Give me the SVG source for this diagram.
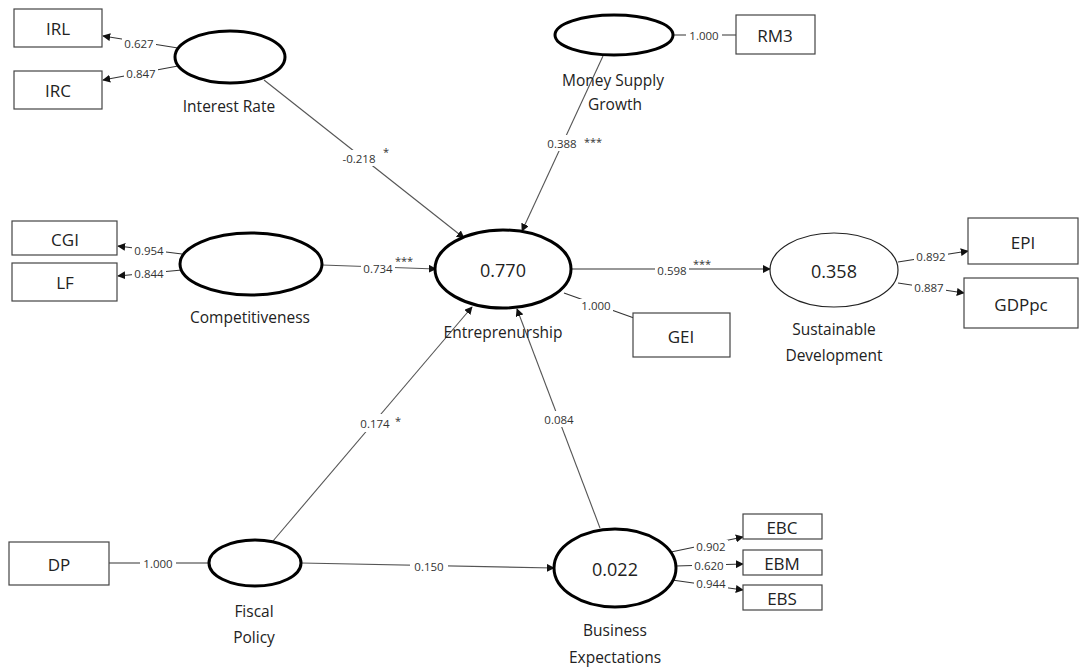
<svg xmlns="http://www.w3.org/2000/svg" width="1080" height="671" viewBox="0 0 1080 671">
<defs>
<marker id="ah" viewBox="0 0 10 10" refX="9" refY="5" markerWidth="8" markerHeight="8" markerUnits="userSpaceOnUse" orient="auto">
<path d="M0,0 L10,5 L0,10 z" fill="#111"/>
</marker>
<style>
.box{fill:#fff;stroke:#444;stroke-width:1.2}
.lat{fill:#fff;stroke:#000;stroke-width:3}
.lat2{fill:#fff;stroke:#222;stroke-width:1.2}
.ln{stroke:#555;stroke-width:1.1;fill:none}
.lm{stroke:#333;stroke-width:1.1;fill:none}
.bg{fill:#fff;stroke:none}
.bt{font-family:"Open Sans","Noto Sans",sans-serif;font-size:17px;fill:#222;text-anchor:middle;dominant-baseline:central}
.nt{font-family:"Open Sans","Noto Sans",sans-serif;font-size:15.5px;fill:#222;text-anchor:middle}
.vt{font-family:"Open Sans","Noto Sans",sans-serif;font-size:18px;fill:#222;text-anchor:middle;dominant-baseline:central}
.lb{font-family:"Open Sans","Noto Sans",sans-serif;font-size:11.5px;fill:#333;text-anchor:middle;dominant-baseline:central}
.st{font-family:"Open Sans","Noto Sans",sans-serif;font-size:11px;fill:#333;text-anchor:start}
</style>
</defs>
<rect width="1080" height="671" fill="#fff"/>

<g id="connectors">
<!-- Interest Rate -->
<line class="lm" x1="178" y1="48" x2="103" y2="36" marker-end="url(#ah)"/>
<line class="lm" x1="178" y1="66" x2="103" y2="80" marker-end="url(#ah)"/>
<rect class="bg" x="122" y="37" width="34" height="12"/><text class="lb" x="139" y="43">0.627</text>
<rect class="bg" x="124" y="67" width="34" height="12"/><text class="lb" x="141" y="73">0.847</text>
<line class="ln" x1="264" y1="80" x2="464" y2="238" marker-end="url(#ah)"/>
<rect class="bg" x="339" y="150" width="52" height="16"/><text class="lb" x="359" y="158">-0.218</text>
<text class="st" x="383" y="156">*</text>
<!-- Money supply -->
<line class="lm" x1="674" y1="35" x2="736" y2="35"/>
<rect class="bg" x="686" y="29" width="36" height="12"/><text class="lb" x="704" y="35">1.000</text>
<line class="ln" x1="603" y1="56" x2="522" y2="231" marker-end="url(#ah)"/>
<rect class="bg" x="544" y="135" width="60" height="16"/><text class="lb" x="562" y="143">0.388</text>
<text class="st" x="584" y="146">***</text>
<!-- Competitiveness -->
<line class="lm" x1="182" y1="254" x2="118" y2="246" marker-end="url(#ah)"/>
<line class="lm" x1="182" y1="270" x2="118" y2="276" marker-end="url(#ah)"/>
<rect class="bg" x="132" y="244" width="34" height="12"/><text class="lb" x="149" y="250">0.954</text>
<rect class="bg" x="132" y="267" width="34" height="12"/><text class="lb" x="149" y="273">0.844</text>
<line class="ln" x1="322" y1="265" x2="436" y2="269" marker-end="url(#ah)"/>
<rect class="bg" x="361" y="262" width="34" height="12"/><text class="lb" x="378" y="268">0.734</text>
<text class="st" x="395" y="265">***</text>
<!-- Entrepreneurship -->
<line class="lm" x1="564" y1="293" x2="634" y2="318"/>
<rect class="bg" x="579" y="299" width="34" height="12"/><text class="lb" x="596" y="305">1.000</text>
<line class="lm" x1="572" y1="269" x2="770" y2="269" marker-end="url(#ah)"/>
<rect class="bg" x="655" y="264" width="34" height="12"/><text class="lb" x="672" y="270">0.598</text>
<text class="st" x="693" y="268">***</text>
<!-- Sustainable -->
<line class="lm" x1="898" y1="262" x2="968" y2="251" marker-end="url(#ah)"/>
<line class="lm" x1="898" y1="283" x2="964" y2="293" marker-end="url(#ah)"/>
<rect class="bg" x="914" y="250" width="34" height="12"/><text class="lb" x="931" y="256">0.892</text>
<rect class="bg" x="912" y="281" width="34" height="12"/><text class="lb" x="929" y="287">0.887</text>
<!-- Fiscal Policy -->
<line class="lm" x1="109" y1="563" x2="209" y2="563"/>
<rect class="bg" x="140" y="557" width="36" height="12"/><text class="lb" x="158" y="563">1.000</text>
<line class="ln" x1="301" y1="563" x2="554" y2="568" marker-end="url(#ah)"/>
<rect class="bg" x="410" y="560" width="38" height="12"/><text class="lb" x="429" y="566">0.150</text>
<line class="ln" x1="273" y1="541" x2="472" y2="307" marker-end="url(#ah)"/>
<rect class="bg" x="355" y="414" width="50" height="18"/><text class="lb" x="375" y="423">0.174</text>
<text class="st" x="395" y="425">*</text>
<!-- Business Expectations -->
<line class="ln" x1="600" y1="528" x2="517" y2="309" marker-end="url(#ah)"/>
<rect class="bg" x="541" y="411" width="36" height="16"/><text class="lb" x="559" y="419">0.084</text>
<line class="lm" x1="671" y1="552" x2="743" y2="537" marker-end="url(#ah)"/>
<line class="lm" x1="676" y1="566" x2="743" y2="564" marker-end="url(#ah)"/>
<line class="lm" x1="672" y1="580" x2="743" y2="590" marker-end="url(#ah)"/>
<rect class="bg" x="694" y="540" width="34" height="12"/><text class="lb" x="711" y="546">0.902</text>
<rect class="bg" x="692" y="559" width="34" height="12"/><text class="lb" x="709" y="565">0.620</text>
<rect class="bg" x="694" y="577" width="34" height="12"/><text class="lb" x="711" y="583">0.944</text>
</g>

<g id="node-IRL"><rect class="box" x="14" y="9" width="88" height="38"/><text class="bt" x="58" y="28">IRL</text></g>
<g id="node-IRC"><rect class="box" x="14" y="71" width="88" height="38"/><text class="bt" x="58" y="90">IRC</text></g>
<g id="node-InterestRate"><ellipse class="lat" cx="230" cy="57" rx="55" ry="26"/><text class="nt" x="229" y="112">Interest Rate</text></g>

<g id="node-MoneySupply"><ellipse class="lat" cx="614" cy="35" rx="59" ry="20"/><text class="nt" x="613" y="86">Money Supply</text><text class="nt" x="615" y="110">Growth</text></g>
<g id="node-RM3"><rect class="box" x="736" y="15" width="79" height="39"/><text class="bt" x="775" y="35">RM3</text></g>

<g id="node-CGI"><rect class="box" x="12" y="221" width="105" height="34"/><text class="bt" x="65" y="239">CGI</text></g>
<g id="node-LF"><rect class="box" x="12" y="263" width="105" height="38"/><text class="bt" x="65" y="282">LF</text></g>
<g id="node-Competitiveness"><ellipse class="lat" cx="251" cy="264" rx="71" ry="31"/><text class="nt" x="250" y="323">Competitiveness</text></g>

<g id="node-Entrepreneurship"><ellipse class="lat" cx="503" cy="269" rx="68" ry="39"/><text class="vt" x="503" y="270">0.770</text><text class="nt" x="503" y="338">Entreprenurship</text></g>
<g id="node-GEI"><rect class="box" x="633" y="313" width="97" height="44"/><text class="bt" x="681" y="336">GEI</text></g>

<g id="node-Sustainable"><ellipse class="lat2" cx="834" cy="270" rx="64" ry="37"/><text class="vt" x="834" y="271">0.358</text><text class="nt" x="834" y="335">Sustainable</text><text class="nt" x="834" y="361">Development</text></g>
<g id="node-EPI"><rect class="box" x="968" y="218" width="110" height="46"/><text class="bt" x="1023" y="242">EPI</text></g>
<g id="node-GDPpc"><rect class="box" x="964" y="278" width="114" height="50"/><text class="bt" x="1021" y="304">GDPpc</text></g>

<g id="node-DP"><rect class="box" x="9" y="542" width="100" height="43"/><text class="bt" x="59" y="564">DP</text></g>
<g id="node-FiscalPolicy"><ellipse class="lat" cx="255" cy="563" rx="46" ry="23"/><text class="nt" x="254" y="617">Fiscal</text><text class="nt" x="254" y="643">Policy</text></g>

<g id="node-BusinessExpectations"><ellipse class="lat" cx="615" cy="568" rx="61" ry="39"/><text class="vt" x="615" y="569">0.022</text><text class="nt" x="615" y="636">Business</text><text class="nt" x="615" y="663">Expectations</text></g>
<g id="node-EBC"><rect class="box" x="743" y="514" width="79" height="25"/><text class="bt" x="782" y="527">EBC</text></g>
<g id="node-EBM"><rect class="box" x="743" y="550" width="79" height="25"/><text class="bt" x="782" y="563">EBM</text></g>
<g id="node-EBS"><rect class="box" x="743" y="585" width="79" height="25"/><text class="bt" x="782" y="598">EBS</text></g>
</svg>
